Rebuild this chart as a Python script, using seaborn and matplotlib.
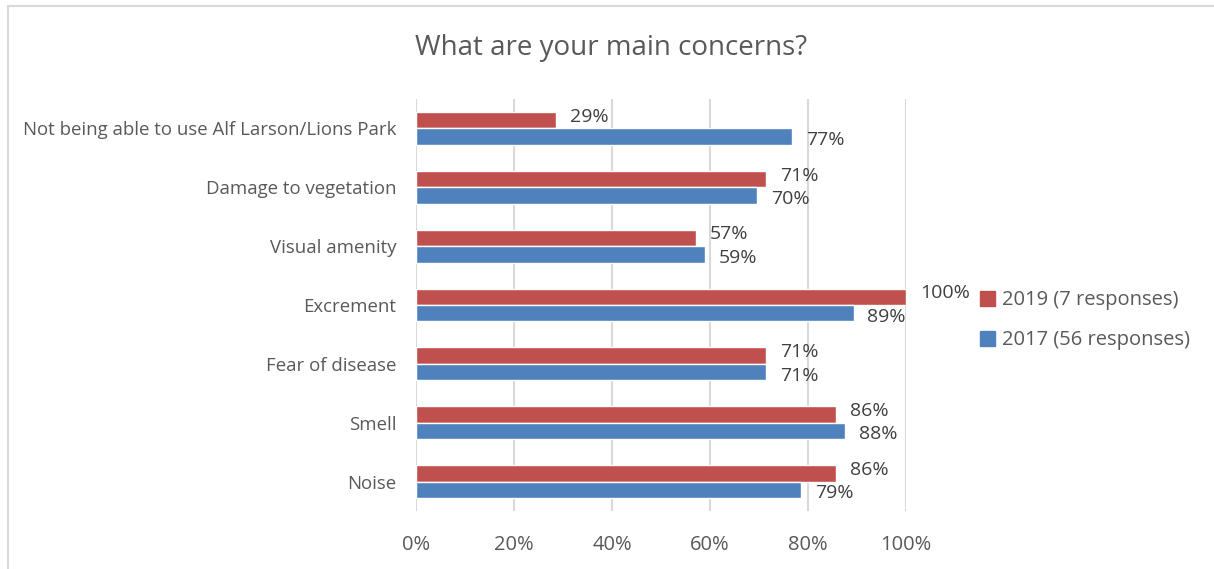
import matplotlib
matplotlib.use("Agg")
import matplotlib.pyplot as plt
from matplotlib.lines import Line2D
from matplotlib.patches import Patch
import seaborn as sns
import pandas as pd

# Data (share of responses, %)
concerns = ["Not being able to use Alf Larson/Lions Park", "Damage to vegetation",
            "Visual amenity", "Excrement", "Fear of disease", "Smell", "Noise"]
pct_2019 = [28.6, 71.4, 57.1, 100.0, 71.4, 85.7, 85.7]
pct_2017 = [76.8, 69.6, 58.9, 89.3, 71.4, 87.5, 78.6]
series = ["2019 (7 responses)", "2017 (56 responses)"]
xticks = [0, 20, 40, 60, 80, 100]

df = pd.DataFrame({
    "Concern": concerns * 2,
    "Pct": pct_2019 + pct_2017,
    "Series": [series[0]] * len(concerns) + [series[1]] * len(concerns),
})

sns.set_style("white")
plt.rcParams["font.family"] = ["Open Sans", "DejaVu Sans"]
grey = "#595959"
colors = ["#C0504D", "#4F81BD"]

fig = plt.figure(figsize=(12.14, 5.69), dpi=100)
ax = fig.add_axes([0.3427, 0.102, 0.4036, 0.724])

sns.barplot(data=df, y="Concern", x="Pct", hue="Series", hue_order=series,
            order=concerns, palette=colors, width=0.56, gap=0, orient="h",
            saturation=1, legend=False, ax=ax)

# value labels; nudge the pair apart a little so they don't collide
for cont, dy in zip(ax.containers, [2.5, -2.5]):
    texts = ax.bar_label(cont, labels=[f"{w:.0f}%" for w in cont.datavalues],
                         padding=10, fontsize=14, color="#404040")
    for t in texts:
        t.xyann = (t.xyann[0], dy)

ax.set_xlim(0, 100)
ax.set_xticks(xticks)
ax.set_xticklabels([f"{t}%" for t in xticks], fontsize=14.5, color=grey)
ax.tick_params(axis="x", length=0, pad=17)
ax.tick_params(axis="y", length=0, pad=14, labelsize=13.4, labelcolor=grey)
ax.xaxis.grid(True, color="#d9d9d9", linewidth=1.5)
ax.set_axisbelow(True)
for s in ax.spines.values():
    s.set_visible(False)
ax.set_xlabel("")
ax.set_ylabel("")

fig.text(0.503, 0.916, "What are your main concerns?", ha="center", va="center",
         fontsize=20, color=grey)

handles = [Patch(color=c) for c in colors]
fig.legend(handles, series, loc="center left", bbox_to_anchor=(0.792, 0.437),
           frameon=False, fontsize=14.5, labelcolor=grey, handlelength=0.75,
           handleheight=0.75, handletextpad=0.35, labelspacing=1.0)

# light frame around the chart area
fig.add_artist(Line2D([0.0062, 0.0062], [0, 0.989], color="#d9d9d9", lw=1.5,
                      transform=fig.transFigure))
fig.add_artist(Line2D([0.0062, 1], [0.989, 0.989], color="#d9d9d9", lw=1.5,
                      transform=fig.transFigure))

fig.savefig("out.png", dpi=100)
